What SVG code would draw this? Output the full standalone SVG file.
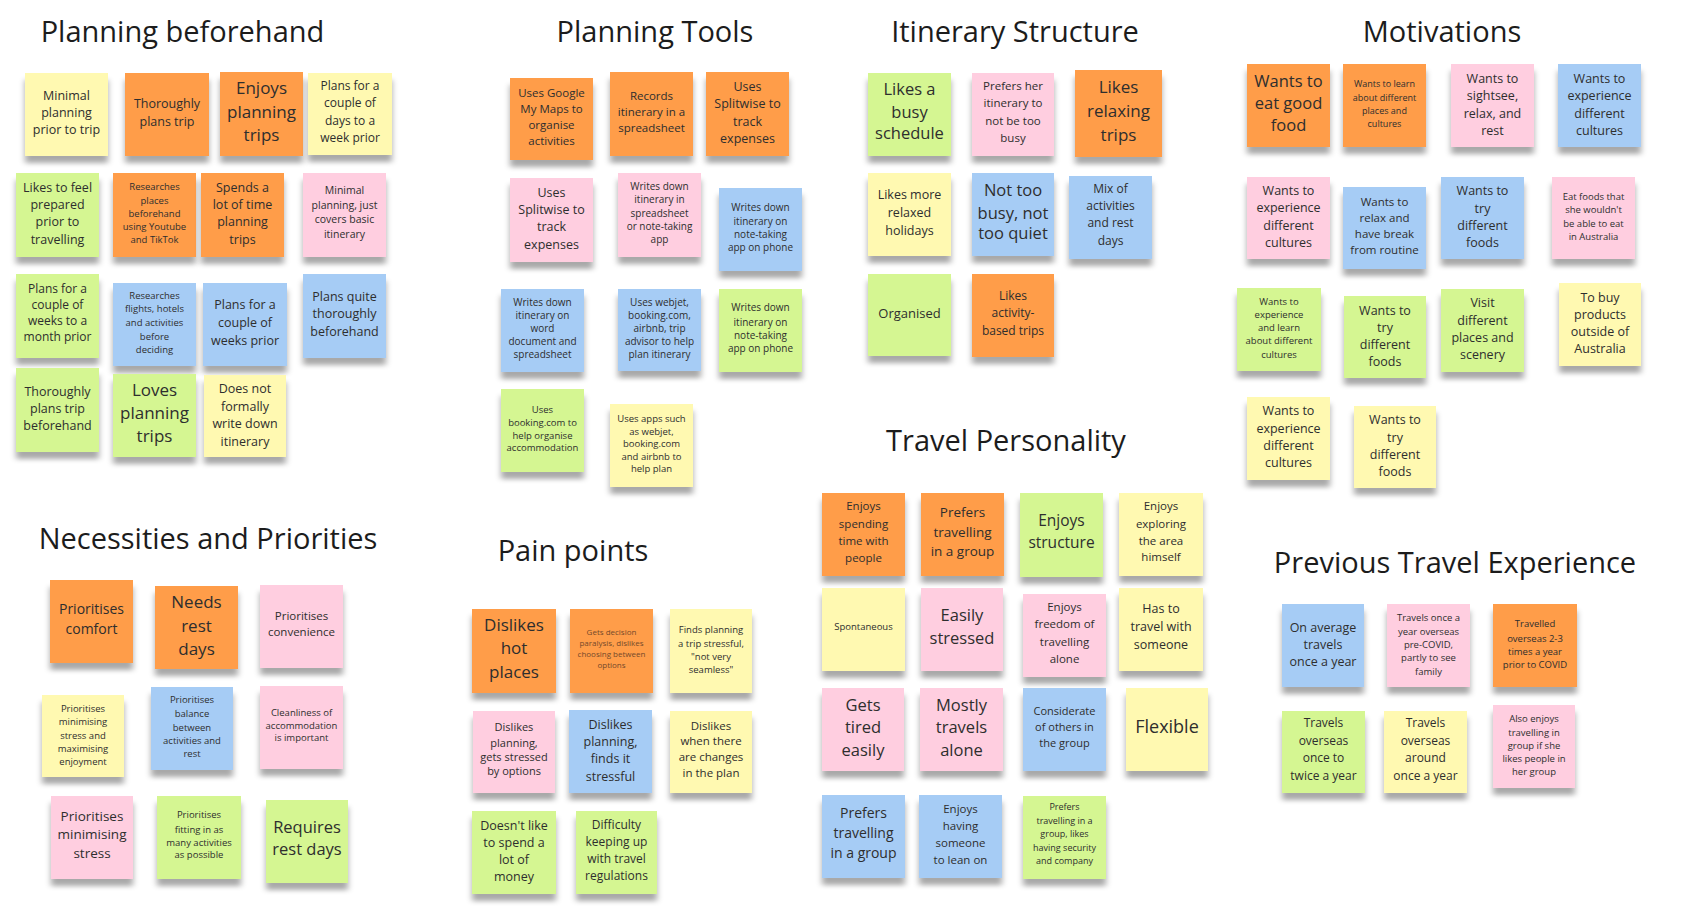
<svg xmlns="http://www.w3.org/2000/svg" width="1703" height="917" viewBox="0 0 1703 917">
<defs>
<filter id="sh" x="-20%" y="-20%" width="140%" height="150%">
<feOffset in="SourceAlpha" dy="7"/>
<feGaussianBlur stdDeviation="3 2.5"/>
<feComponentTransfer><feFuncA type="linear" slope="0.34"/></feComponentTransfer>
<feMerge><feMergeNode/><feMergeNode in="SourceGraphic"/></feMerge>
</filter>
</defs>
<style>
.n{filter:url(#sh)}
.y{fill:#fff9b1}.o{fill:#ff9d48}.g{fill:#d5f692}.p{fill:#ffcee0}.b{fill:#a6ccf5}
text{font-family:"Open Sans","Noto Sans","Liberation Sans",sans-serif;fill:#2e2e2e;text-anchor:middle}
.h{font-size:29px;fill:#1c1c1c}
</style>
<rect width="1703" height="917" fill="#ffffff"/>

<g id="titles">
<text class="h" x="182.5" y="42">Planning beforehand</text>
<text class="h" x="655" y="42">Planning Tools</text>
<text class="h" x="1015" y="42">Itinerary Structure</text>
<text class="h" x="1442" y="42">Motivations</text>
<text class="h" x="208" y="549">Necessities and Priorities</text>
<text class="h" x="573" y="561">Pain points</text>
<text class="h" x="1006" y="451">Travel Personality</text>
<text class="h" x="1455" y="573">Previous Travel Experience</text>
</g>

<g id="connectors"></g>

<!-- Planning beforehand -->
<g id="pb1"><rect class="n y" x="25" y="73" width="83" height="83"/><text font-size="12.5"><tspan x="66.5" y="100">Minimal</tspan><tspan x="66.5" y="117">planning</tspan><tspan x="66.5" y="134">prior to trip</tspan></text></g>
<g id="pb2"><rect class="n o" x="125" y="73" width="84" height="83"/><text font-size="12.5"><tspan x="167" y="107.5">Thoroughly</tspan><tspan x="167" y="125.5">plans trip</tspan></text></g>
<g id="pb3"><rect class="n o" x="220" y="72" width="83" height="84"/><text font-size="17"><tspan x="261.5" y="94">Enjoys</tspan><tspan x="261.5" y="118">planning</tspan><tspan x="261.5" y="141">trips</tspan></text></g>
<g id="pb4"><rect class="n y" x="308" y="73" width="84" height="82"/><text font-size="12"><tspan x="350" y="90">Plans for a</tspan><tspan x="350" y="107">couple of</tspan><tspan x="350" y="125">days to a</tspan><tspan x="350" y="142">week prior</tspan></text></g>
<g id="pb5"><rect class="n g" x="16" y="173" width="83" height="84"/><text font-size="12.5"><tspan x="57.5" y="191.5">Likes to feel</tspan><tspan x="57.5" y="208.5">prepared</tspan><tspan x="57.5" y="225.5">prior to</tspan><tspan x="57.5" y="243.5">travelling</tspan></text></g>
<g id="pb6"><rect class="n o" x="113" y="173" width="83" height="84"/><text font-size="9.5"><tspan x="154.5" y="189.5">Researches</tspan><tspan x="154.5" y="203.5">places</tspan><tspan x="154.5" y="216.5">beforehand</tspan><tspan x="154.5" y="229.5">using Youtube</tspan><tspan x="154.5" y="242.5">and TikTok</tspan></text></g>
<g id="pb7"><rect class="n o" x="201" y="173" width="83" height="84"/><text font-size="12.5"><tspan x="242.5" y="191.5">Spends a</tspan><tspan x="242.5" y="208.5">lot of time</tspan><tspan x="242.5" y="225.5">planning</tspan><tspan x="242.5" y="243.5">trips</tspan></text></g>
<g id="pb8"><rect class="n p" x="303" y="173" width="83" height="84"/><text font-size="10.5"><tspan x="344.5" y="194">Minimal</tspan><tspan x="344.5" y="209">planning, just</tspan><tspan x="344.5" y="223">covers basic</tspan><tspan x="344.5" y="238">itinerary</tspan></text></g>
<g id="pb9"><rect class="n g" x="16" y="274" width="83" height="84"/><text font-size="12"><tspan x="57.5" y="293">Plans for a</tspan><tspan x="57.5" y="309">couple of</tspan><tspan x="57.5" y="325">weeks to a</tspan><tspan x="57.5" y="341">month prior</tspan></text></g>
<g id="pb10"><rect class="n b" x="113" y="283" width="83" height="83"/><text font-size="9.5"><tspan x="154.5" y="298.5">Researches</tspan><tspan x="154.5" y="311.5">flights, hotels</tspan><tspan x="154.5" y="325.5">and activities</tspan><tspan x="154.5" y="339.5">before</tspan><tspan x="154.5" y="352.5">deciding</tspan></text></g>
<g id="pb11"><rect class="n b" x="203" y="283" width="84" height="83"/><text font-size="12.5"><tspan x="245" y="308.5">Plans for a</tspan><tspan x="245" y="326.5">couple of</tspan><tspan x="245" y="344.5">weeks prior</tspan></text></g>
<g id="pb12"><rect class="n b" x="303" y="274" width="83" height="84"/><text font-size="12.5"><tspan x="344.5" y="300.5">Plans quite</tspan><tspan x="344.5" y="317.5">thoroughly</tspan><tspan x="344.5" y="335.5">beforehand</tspan></text></g>
<g id="pb13"><rect class="n g" x="16" y="368" width="83" height="84"/><text font-size="12.5"><tspan x="57.5" y="395.5">Thoroughly</tspan><tspan x="57.5" y="412.5">plans trip</tspan><tspan x="57.5" y="429.5">beforehand</tspan></text></g>
<g id="pb14"><rect class="n g" x="113" y="374" width="83" height="83"/><text font-size="17"><tspan x="154.5" y="396">Loves</tspan><tspan x="154.5" y="419">planning</tspan><tspan x="154.5" y="442">trips</tspan></text></g>
<g id="pb15"><rect class="n y" x="204" y="375" width="82" height="82"/><text font-size="12.5"><tspan x="245" y="392.5">Does not</tspan><tspan x="245" y="410.5">formally</tspan><tspan x="245" y="427.5">write down</tspan><tspan x="245" y="445.5">itinerary</tspan></text></g>

<!-- Planning Tools -->
<g id="pt1"><rect class="n o" x="510" y="78" width="83" height="82"/><text font-size="11.5"><tspan x="551.5" y="97">Uses Google</tspan><tspan x="551.5" y="113">My Maps to</tspan><tspan x="551.5" y="129">organise</tspan><tspan x="551.5" y="145">activities</tspan></text></g>
<g id="pt2"><rect class="n o" x="610" y="72" width="83" height="84"/><text font-size="11.5"><tspan x="651.5" y="100">Records</tspan><tspan x="651.5" y="116">itinerary in a</tspan><tspan x="651.5" y="132">spreadsheet</tspan></text></g>
<g id="pt3"><rect class="n o" x="706" y="72" width="83" height="84"/><text font-size="12.5"><tspan x="747.5" y="90.5">Uses</tspan><tspan x="747.5" y="107.5">Splitwise to</tspan><tspan x="747.5" y="125.5">track</tspan><tspan x="747.5" y="142.5">expenses</tspan></text></g>
<g id="pt4"><rect class="n p" x="510" y="178" width="83" height="84"/><text font-size="12.5"><tspan x="551.5" y="196.5">Uses</tspan><tspan x="551.5" y="213.5">Splitwise to</tspan><tspan x="551.5" y="230.5">track</tspan><tspan x="551.5" y="248.5">expenses</tspan></text></g>
<g id="pt5"><rect class="n p" x="618" y="173" width="83" height="84"/><text font-size="10"><tspan x="659.5" y="189.5">Writes down</tspan><tspan x="659.5" y="202.5">itinerary in</tspan><tspan x="659.5" y="216.5">spreadsheet</tspan><tspan x="659.5" y="229.5">or note-taking</tspan><tspan x="659.5" y="242.5">app</tspan></text></g>
<g id="pt6"><rect class="n b" x="719" y="188" width="83" height="83"/><text font-size="10"><tspan x="760.5" y="210.5">Writes down</tspan><tspan x="760.5" y="224.5">itinerary on</tspan><tspan x="760.5" y="237.5">note-taking</tspan><tspan x="760.5" y="250.5">app on phone</tspan></text></g>
<g id="pt7"><rect class="n b" x="501" y="289" width="83" height="83"/><text font-size="10"><tspan x="542.5" y="305.5">Writes down</tspan><tspan x="542.5" y="318.5">itinerary on</tspan><tspan x="542.5" y="331.5">word</tspan><tspan x="542.5" y="344.5">document and</tspan><tspan x="542.5" y="357.5">spreadsheet</tspan></text></g>
<g id="pt8"><rect class="n b" x="618" y="289" width="83" height="82"/><text font-size="10"><tspan x="659.5" y="305.5">Uses webjet,</tspan><tspan x="659.5" y="318.5">booking.com,</tspan><tspan x="659.5" y="331.5">airbnb, trip</tspan><tspan x="659.5" y="344.5">advisor to help</tspan><tspan x="659.5" y="357.5">plan itinerary</tspan></text></g>
<g id="pt9"><rect class="n g" x="719" y="289" width="83" height="83"/><text font-size="10"><tspan x="760.5" y="310.5">Writes down</tspan><tspan x="760.5" y="325.5">itinerary on</tspan><tspan x="760.5" y="338.5">note-taking</tspan><tspan x="760.5" y="351.5">app on phone</tspan></text></g>
<g id="pt10"><rect class="n g" x="501" y="389" width="83" height="83"/><text font-size="9.5"><tspan x="542.5" y="412.5">Uses</tspan><tspan x="542.5" y="425.5">booking.com to</tspan><tspan x="542.5" y="438.5">help organise</tspan><tspan x="542.5" y="450.5">accommodation</tspan></text></g>
<g id="pt11"><rect class="n y" x="610" y="404" width="83" height="83"/><text font-size="9.5"><tspan x="651.5" y="421.5">Uses apps such</tspan><tspan x="651.5" y="434.5">as webjet,</tspan><tspan x="651.5" y="446.5">booking.com</tspan><tspan x="651.5" y="459.5">and airbnb to</tspan><tspan x="651.5" y="471.5">help plan</tspan></text></g>

<!-- Itinerary Structure -->
<g id="is1"><rect class="n g" x="868" y="73" width="83" height="83"/><text font-size="16.5"><tspan x="909.5" y="95">Likes a</tspan><tspan x="909.5" y="118">busy</tspan><tspan x="909.5" y="139">schedule</tspan></text></g>
<g id="is2"><rect class="n p" x="972" y="73" width="82" height="83"/><text font-size="11.5"><tspan x="1013" y="90">Prefers her</tspan><tspan x="1013" y="107">itinerary to</tspan><tspan x="1013" y="125">not be too</tspan><tspan x="1013" y="142">busy</tspan></text></g>
<g id="is3"><rect class="n o" x="1075" y="70" width="87" height="87"/><text font-size="17"><tspan x="1118.5" y="93">Likes</tspan><tspan x="1118.5" y="117">relaxing</tspan><tspan x="1118.5" y="141">trips</tspan></text></g>
<g id="is4"><rect class="n y" x="868" y="173" width="83" height="83"/><text font-size="12.5"><tspan x="909.5" y="198.5">Likes more</tspan><tspan x="909.5" y="216.5">relaxed</tspan><tspan x="909.5" y="234.5">holidays</tspan></text></g>
<g id="is5"><rect class="n b" x="972" y="173" width="82" height="83"/><text font-size="16.5"><tspan x="1013" y="196">Not too</tspan><tspan x="1013" y="219">busy, not</tspan><tspan x="1013" y="239">too quiet</tspan></text></g>
<g id="is6"><rect class="n b" x="1069" y="176" width="83" height="83"/><text font-size="12"><tspan x="1110.5" y="193">Mix of</tspan><tspan x="1110.5" y="210">activities</tspan><tspan x="1110.5" y="227">and rest</tspan><tspan x="1110.5" y="245">days</tspan></text></g>
<g id="is7"><rect class="n g" x="868" y="274" width="83" height="82"/><text font-size="13"><tspan x="909.5" y="317.5">Organised</tspan></text></g>
<g id="is8"><rect class="n o" x="972" y="274" width="82" height="83"/><text font-size="12"><tspan x="1013" y="300">Likes</tspan><tspan x="1013" y="317">activity-</tspan><tspan x="1013" y="335">based trips</tspan></text></g>

<!-- Motivations -->
<g id="m1"><rect class="n o" x="1247" y="64" width="83" height="83"/><text font-size="16.5"><tspan x="1288.5" y="87">Wants to</tspan><tspan x="1288.5" y="109">eat good</tspan><tspan x="1288.5" y="131">food</tspan></text></g>
<g id="m2"><rect class="n o" x="1343" y="64" width="83" height="83"/><text font-size="9"><tspan x="1384.5" y="87">Wants to learn</tspan><tspan x="1384.5" y="101">about different</tspan><tspan x="1384.5" y="114">places and</tspan><tspan x="1384.5" y="127">cultures</tspan></text></g>
<g id="m3"><rect class="n p" x="1451" y="64" width="83" height="83"/><text font-size="12.5"><tspan x="1492.5" y="82.5">Wants to</tspan><tspan x="1492.5" y="99.5">sightsee,</tspan><tspan x="1492.5" y="117.5">relax, and</tspan><tspan x="1492.5" y="134.5">rest</tspan></text></g>
<g id="m4"><rect class="n b" x="1558" y="64" width="83" height="83"/><text font-size="12.5"><tspan x="1599.5" y="82.5">Wants to</tspan><tspan x="1599.5" y="99.5">experience</tspan><tspan x="1599.5" y="117.5">different</tspan><tspan x="1599.5" y="134.5">cultures</tspan></text></g>
<g id="m5"><rect class="n p" x="1247" y="177" width="83" height="82"/><text font-size="12.5"><tspan x="1288.5" y="194.5">Wants to</tspan><tspan x="1288.5" y="211.5">experience</tspan><tspan x="1288.5" y="229.5">different</tspan><tspan x="1288.5" y="246.5">cultures</tspan></text></g>
<g id="m6"><rect class="n b" x="1343" y="187" width="83" height="82"/><text font-size="11.5"><tspan x="1384.5" y="206">Wants to</tspan><tspan x="1384.5" y="222">relax and</tspan><tspan x="1384.5" y="238">have break</tspan><tspan x="1384.5" y="254">from routine</tspan></text></g>
<g id="m7"><rect class="n b" x="1441" y="177" width="83" height="82"/><text font-size="12.5"><tspan x="1482.5" y="194.5">Wants to</tspan><tspan x="1482.5" y="212.5">try</tspan><tspan x="1482.5" y="229.5">different</tspan><tspan x="1482.5" y="246.5">foods</tspan></text></g>
<g id="m8"><rect class="n p" x="1552" y="177" width="83" height="82"/><text font-size="9.5"><tspan x="1593.5" y="199.5">Eat foods that</tspan><tspan x="1593.5" y="212.5">she wouldn't</tspan><tspan x="1593.5" y="226.5">be able to eat</tspan><tspan x="1593.5" y="239.5">in Australia</tspan></text></g>
<g id="m9"><rect class="n g" x="1237" y="288" width="84" height="83"/><text font-size="9.5"><tspan x="1279" y="304.5">Wants to</tspan><tspan x="1279" y="317.5">experience</tspan><tspan x="1279" y="330.5">and learn</tspan><tspan x="1279" y="343.5">about different</tspan><tspan x="1279" y="357.5">cultures</tspan></text></g>
<g id="m10"><rect class="n g" x="1344" y="296" width="82" height="82"/><text font-size="12.5"><tspan x="1385" y="314.5">Wants to</tspan><tspan x="1385" y="331.5">try</tspan><tspan x="1385" y="348.5">different</tspan><tspan x="1385" y="365.5">foods</tspan></text></g>
<g id="m11"><rect class="n g" x="1441" y="289" width="83" height="83"/><text font-size="12.5"><tspan x="1482.5" y="306.5">Visit</tspan><tspan x="1482.5" y="324.5">different</tspan><tspan x="1482.5" y="341.5">places and</tspan><tspan x="1482.5" y="358.5">scenery</tspan></text></g>
<g id="m12"><rect class="n y" x="1559" y="283" width="82" height="83"/><text font-size="12.5"><tspan x="1600" y="301.5">To buy</tspan><tspan x="1600" y="318.5">products</tspan><tspan x="1600" y="335.5">outside of</tspan><tspan x="1600" y="352.5">Australia</tspan></text></g>
<g id="m13"><rect class="n y" x="1247" y="397" width="83" height="83"/><text font-size="12.5"><tspan x="1288.5" y="414.5">Wants to</tspan><tspan x="1288.5" y="432.5">experience</tspan><tspan x="1288.5" y="449.5">different</tspan><tspan x="1288.5" y="466.5">cultures</tspan></text></g>
<g id="m14"><rect class="n y" x="1354" y="406" width="82" height="82"/><text font-size="12.5"><tspan x="1395" y="423.5">Wants to</tspan><tspan x="1395" y="441.5">try</tspan><tspan x="1395" y="458.5">different</tspan><tspan x="1395" y="475.5">foods</tspan></text></g>

<!-- Necessities and Priorities -->
<g id="n1"><rect class="n o" x="50" y="580" width="83" height="83"/><text font-size="14"><tspan x="91.5" y="614">Prioritises</tspan><tspan x="91.5" y="634">comfort</tspan></text></g>
<g id="n2"><rect class="n o" x="155" y="586" width="83" height="83"/><text font-size="17"><tspan x="196.5" y="608">Needs</tspan><tspan x="196.5" y="632">rest</tspan><tspan x="196.5" y="655">days</tspan></text></g>
<g id="n3"><rect class="n p" x="260" y="585" width="83" height="83"/><text font-size="11.5"><tspan x="301.5" y="620">Prioritises</tspan><tspan x="301.5" y="636">convenience</tspan></text></g>
<g id="n4"><rect class="n y" x="42" y="695" width="82" height="82"/><text font-size="9.5"><tspan x="83" y="711.5">Prioritises</tspan><tspan x="83" y="724.5">minimising</tspan><tspan x="83" y="738.5">stress and</tspan><tspan x="83" y="751.5">maximising</tspan><tspan x="83" y="764.5">enjoyment</tspan></text></g>
<g id="n5"><rect class="n b" x="151" y="687" width="82" height="83"/><text font-size="9.5"><tspan x="192" y="702.5">Prioritises</tspan><tspan x="192" y="716.5">balance</tspan><tspan x="192" y="730.5">between</tspan><tspan x="192" y="743.5">activities and</tspan><tspan x="192" y="756.5">rest</tspan></text></g>
<g id="n6"><rect class="n p" x="260" y="686" width="83" height="83"/><text font-size="9.5"><tspan x="301.5" y="715.5">Cleanliness of</tspan><tspan x="301.5" y="728.5">accommodation</tspan><tspan x="301.5" y="740.5">is important</tspan></text></g>
<g id="n7"><rect class="n p" x="51" y="796" width="82" height="83"/><text font-size="13.5"><tspan x="92" y="821">Prioritises</tspan><tspan x="92" y="839">minimising</tspan><tspan x="92" y="858">stress</tspan></text></g>
<g id="n8"><rect class="n g" x="157" y="796" width="84" height="83"/><text font-size="9.5"><tspan x="199" y="817.5">Prioritises</tspan><tspan x="199" y="832.5">fitting in as</tspan><tspan x="199" y="845.5">many activities</tspan><tspan x="199" y="857.5">as possible</tspan></text></g>
<g id="n9"><rect class="n g" x="266" y="800" width="82" height="83"/><text font-size="16.5"><tspan x="307" y="833">Requires</tspan><tspan x="307" y="855">rest days</tspan></text></g>

<!-- Pain points -->
<g id="pp1"><rect class="n o" x="472" y="609" width="84" height="84"/><text font-size="17"><tspan x="514" y="631">Dislikes</tspan><tspan x="514" y="654">hot</tspan><tspan x="514" y="678">places</tspan></text></g>
<g id="pp2"><rect class="n o" x="570" y="609" width="83" height="84"/><text font-size="8" style="fill:#74492a"><tspan x="611.5" y="635">Gets decision</tspan><tspan x="611.5" y="646">paralysis, dislikes</tspan><tspan x="611.5" y="657">choosing between</tspan><tspan x="611.5" y="668">options</tspan></text></g>
<g id="pp3"><rect class="n y" x="670" y="609" width="82" height="84"/><text font-size="9.5"><tspan x="711" y="632.5">Finds planning</tspan><tspan x="711" y="646.5">a trip stressful,</tspan><tspan x="711" y="659.5">"not very</tspan><tspan x="711" y="672.5">seamless"</tspan></text></g>
<g id="pp4"><rect class="n p" x="473" y="711" width="82" height="82"/><text font-size="11"><tspan x="514" y="731">Dislikes</tspan><tspan x="514" y="747">planning,</tspan><tspan x="514" y="761">gets stressed</tspan><tspan x="514" y="775">by options</tspan></text></g>
<g id="pp5"><rect class="n b" x="569" y="710" width="83" height="83"/><text font-size="12.5"><tspan x="610.5" y="728.5">Dislikes</tspan><tspan x="610.5" y="745.5">planning,</tspan><tspan x="610.5" y="762.5">finds it</tspan><tspan x="610.5" y="780.5">stressful</tspan></text></g>
<g id="pp6"><rect class="n y" x="670" y="711" width="82" height="82"/><text font-size="11.5"><tspan x="711" y="730">Dislikes</tspan><tspan x="711" y="745">when there</tspan><tspan x="711" y="761">are changes</tspan><tspan x="711" y="777">in the plan</tspan></text></g>
<g id="pp7"><rect class="n g" x="472" y="811" width="84" height="83"/><text font-size="12.5"><tspan x="514" y="829.5">Doesn't like</tspan><tspan x="514" y="846.5">to spend a</tspan><tspan x="514" y="863.5">lot of</tspan><tspan x="514" y="880.5">money</tspan></text></g>
<g id="pp8"><rect class="n g" x="576" y="811" width="81" height="83"/><text font-size="12"><tspan x="616.5" y="829">Difficulty</tspan><tspan x="616.5" y="846">keeping up</tspan><tspan x="616.5" y="863">with travel</tspan><tspan x="616.5" y="880">regulations</tspan></text></g>

<!-- Travel Personality -->
<g id="tp1"><rect class="n o" x="822" y="493" width="83" height="83"/><text font-size="11.5"><tspan x="863.5" y="510">Enjoys</tspan><tspan x="863.5" y="528">spending</tspan><tspan x="863.5" y="545">time with</tspan><tspan x="863.5" y="562">people</tspan></text></g>
<g id="tp2"><rect class="n o" x="921" y="493" width="83" height="83"/><text font-size="13.5"><tspan x="962.5" y="517">Prefers</tspan><tspan x="962.5" y="537">travelling</tspan><tspan x="962.5" y="556">in a group</tspan></text></g>
<g id="tp3"><rect class="n g" x="1020" y="493" width="83" height="84"/><text font-size="15.5"><tspan x="1061.5" y="525.5">Enjoys</tspan><tspan x="1061.5" y="547.5">structure</tspan></text></g>
<g id="tp4"><rect class="n y" x="1119" y="493" width="84" height="83"/><text font-size="11.5"><tspan x="1161" y="510">Enjoys</tspan><tspan x="1161" y="528">exploring</tspan><tspan x="1161" y="545">the area</tspan><tspan x="1161" y="561">himself</tspan></text></g>
<g id="tp5"><rect class="n y" x="822" y="588" width="83" height="83"/><text font-size="9.5"><tspan x="863.5" y="629.5">Spontaneous</tspan></text></g>
<g id="tp6"><rect class="n p" x="921" y="588" width="82" height="83"/><text font-size="16.5"><tspan x="962" y="621">Easily</tspan><tspan x="962" y="644">stressed</tspan></text></g>
<g id="tp7"><rect class="n p" x="1023" y="594" width="83" height="83"/><text font-size="11.5"><tspan x="1064.5" y="611">Enjoys</tspan><tspan x="1064.5" y="628">freedom of</tspan><tspan x="1064.5" y="646">travelling</tspan><tspan x="1064.5" y="663">alone</tspan></text></g>
<g id="tp8"><rect class="n y" x="1119" y="588" width="84" height="83"/><text font-size="12.5"><tspan x="1161" y="612.5">Has to</tspan><tspan x="1161" y="631">travel with</tspan><tspan x="1161" y="648.5">someone</tspan></text></g>
<g id="tp9"><rect class="n p" x="822" y="688" width="82" height="83"/><text font-size="16.5"><tspan x="863" y="711">Gets</tspan><tspan x="863" y="733">tired</tspan><tspan x="863" y="756">easily</tspan></text></g>
<g id="tp10"><rect class="n p" x="920" y="688" width="83" height="83"/><text font-size="16.5"><tspan x="961.5" y="711">Mostly</tspan><tspan x="961.5" y="733">travels</tspan><tspan x="961.5" y="756">alone</tspan></text></g>
<g id="tp11"><rect class="n b" x="1023" y="688" width="83" height="83"/><text font-size="11"><tspan x="1064.5" y="715">Considerate</tspan><tspan x="1064.5" y="731">of others in</tspan><tspan x="1064.5" y="747">the group</tspan></text></g>
<g id="tp12"><rect class="n y" x="1126" y="688" width="82" height="83"/><text font-size="18"><tspan x="1167" y="732.5">Flexible</tspan></text></g>
<g id="tp13"><rect class="n b" x="822" y="795" width="83" height="83"/><text font-size="14"><tspan x="863.5" y="818">Prefers</tspan><tspan x="863.5" y="838">travelling</tspan><tspan x="863.5" y="858">in a group</tspan></text></g>
<g id="tp14"><rect class="n b" x="919" y="795" width="83" height="83"/><text font-size="11.5"><tspan x="960.5" y="813">Enjoys</tspan><tspan x="960.5" y="830">having</tspan><tspan x="960.5" y="847">someone</tspan><tspan x="960.5" y="864">to lean on</tspan></text></g>
<g id="tp15"><rect class="n g" x="1023" y="796" width="83" height="83"/><text font-size="9"><tspan x="1064.5" y="810">Prefers</tspan><tspan x="1064.5" y="824">travelling in a</tspan><tspan x="1064.5" y="837">group, likes</tspan><tspan x="1064.5" y="851">having security</tspan><tspan x="1064.5" y="864">and company</tspan></text></g>

<!-- Previous Travel Experience -->
<g id="pe1"><rect class="n b" x="1282" y="604" width="82" height="83"/><text font-size="12.5"><tspan x="1323" y="631.5">On average</tspan><tspan x="1323" y="648.5">travels</tspan><tspan x="1323" y="665.5">once a year</tspan></text></g>
<g id="pe2"><rect class="n p" x="1387" y="604" width="83" height="83"/><text font-size="9.5"><tspan x="1428.5" y="620.5">Travels once a</tspan><tspan x="1428.5" y="634.5">year overseas</tspan><tspan x="1428.5" y="647.5">pre-COVID,</tspan><tspan x="1428.5" y="660.5">partly to see</tspan><tspan x="1428.5" y="674.5">family</tspan></text></g>
<g id="pe3"><rect class="n o" x="1493" y="604" width="84" height="83"/><text font-size="9.5"><tspan x="1535" y="626.5">Travelled</tspan><tspan x="1535" y="641.5">overseas 2-3</tspan><tspan x="1535" y="654.5">times a year</tspan><tspan x="1535" y="667.5">prior to COVID</tspan></text></g>
<g id="pe4"><rect class="n g" x="1282" y="711" width="83" height="82"/><text font-size="12"><tspan x="1323.5" y="727">Travels</tspan><tspan x="1323.5" y="745">overseas</tspan><tspan x="1323.5" y="762">once to</tspan><tspan x="1323.5" y="780">twice a year</tspan></text></g>
<g id="pe5"><rect class="n y" x="1384" y="711" width="83" height="82"/><text font-size="12"><tspan x="1425.5" y="727">Travels</tspan><tspan x="1425.5" y="745">overseas</tspan><tspan x="1425.5" y="762">around</tspan><tspan x="1425.5" y="780">once a year</tspan></text></g>
<g id="pe6"><rect class="n p" x="1493" y="705" width="82" height="83"/><text font-size="9.5"><tspan x="1534" y="721.5">Also enjoys</tspan><tspan x="1534" y="735.5">travelling in</tspan><tspan x="1534" y="748.5">group if she</tspan><tspan x="1534" y="761.5">likes people in</tspan><tspan x="1534" y="774.5">her group</tspan></text></g>
</svg>
